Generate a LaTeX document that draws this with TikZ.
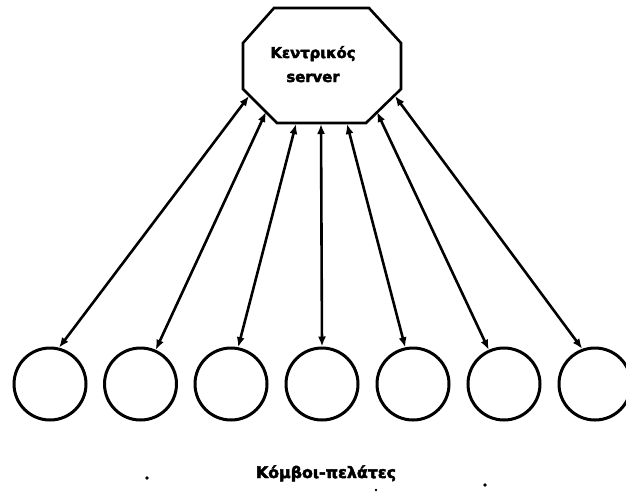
\documentclass[tikz,border=0pt]{standalone}
\usepackage{fontspec}
\setmainfont{DejaVu Sans}[BoldFeatures={FakeBold=3}]
\usetikzlibrary{arrows.meta}
\begin{document}
\begin{tikzpicture}[x=1pt,y=-1pt,
  client/.style={circle,draw,line width=3pt,minimum size=72pt,inner sep=0pt},
  link/.style={line width=2.6pt,{Latex[length=10pt,width=8pt]}-{Latex[length=10pt,width=8pt]}},
  srvborder/.style={draw,line width=2.6pt,line join=miter},
  lbl/.style={font=\bfseries\fontsize{14.8}{17}\selectfont,inner sep=0pt},
  biglbl/.style={font=\bfseries\fontsize{15.8}{18}\selectfont,inner sep=0pt},
  speck/.style={fill=black,draw=none}]
\useasboundingbox (0,0) rectangle (626,491);
% server octagon
\draw[srvborder] (274,8) -- (369,8) -- (401,43) -- (401,89) -- (366,123)
  -- (277,123) -- (243,89) -- (243,43) -- cycle;
\node[lbl,anchor=base] (t1) at (313,58) {Κεντρικός};
\node[lbl,anchor=base] (t2) at (313,82) {server};
% attachment points on the server border
\coordinate (s1) at (249,96);
\coordinate (s2) at (266,112);
\coordinate (s3) at (296,124);
\coordinate (s4) at (321,124);
\coordinate (s5) at (347,124);
\coordinate (s6) at (377,112);
\coordinate (s7) at (395,96);
% clients
\node[client] (c1) at (50,384) {};
\node[client] (c2) at (140.5,384) {};
\node[client] (c3) at (231,384) {};
\node[client] (c4) at (322,384) {};
\node[client] (c5) at (413,384) {};
\node[client] (c6) at (504,384) {};
\node[client] (c7) at (595,384) {};
% links
\draw[link] (c1.76) -- (s1);
\draw[link] (c2.66) -- (s2);
\draw[link] (c3.79) -- (s3);
\draw[link] (c4.90) -- (s4);
\draw[link] (c5.102) -- (s5);
\draw[link] (c6.114) -- (s6);
\draw[link] (c7.110) -- (s7);
\node[biglbl,anchor=base] (lab) at (326,478) {Κόμβοι-πελάτες};
% specks
\fill[speck] (147,478) circle (1.8);
\fill[speck] (376,490) circle (1.3);
\fill[speck] (485,485) circle (1.8);
\end{tikzpicture}
\end{document}
